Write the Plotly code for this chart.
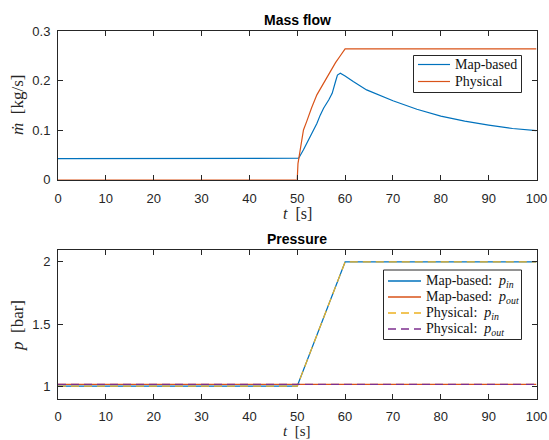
import plotly.graph_objects as go

# Mass flow, map-based model
t_map = [0, 50, 50.3, 51.3, 52.7, 54.1, 54.8, 55.5, 56.6, 57.3, 58.0, 58.4, 59.0,
         59.7, 60, 61.7, 64.5, 70, 75, 80, 85, 90, 95, 100]
mdot_map = [0.042, 0.042, 0.043, 0.060, 0.086, 0.113, 0.130, 0.144, 0.161, 0.174,
            0.198, 0.211, 0.2145, 0.211, 0.209, 0.198, 0.181, 0.159, 0.142, 0.128,
            0.118, 0.110, 0.103, 0.0986]

# Mass flow, physical model
t_phys = [0, 50, 50.15, 50.6, 51, 51.3, 52, 52.7, 53, 54.1, 55.5, 56, 57.6, 58, 59, 60, 100]
mdot_phys = [0, 0, 0.032, 0.060, 0.083, 0.100, 0.118, 0.140, 0.145, 0.171, 0.194,
             0.204, 0.231, 0.236, 0.250, 0.264, 0.264]

# Pressures
t_p = [0, 50, 60, 100]
p_in_map = [1.0, 1.0, 2.0, 2.0]
p_out_map = [1.013, 1.013, 1.013, 1.013]
p_in_phys = [1.0, 1.0, 2.0, 2.0]
p_out_phys = [1.013, 1.013, 1.013, 1.013]

x_ticks = list(range(0, 101, 10))
y1_ticks = [0, 0.1, 0.2, 0.3]
y1_labels = ["0", "0.1", "0.2", "0.3"]
y2_ticks = [1, 1.5, 2]
y2_labels = ["1", "1.5", "2"]

top_names = ["Map-based", "Physical"]
bot_names = ["Map-based:  <i>p</i><sub><i>in</i></sub>",
             "Map-based:  <i>p</i><sub><i>out</i></sub>",
             "Physical:  <i>p</i><sub><i>in</i></sub>",
             "Physical:  <i>p</i><sub><i>out</i></sub>"]

BLUE = "#0072BD"
ORANGE = "#D95319"
YELLOW = "#EDB120"
PURPLE = "#7E2F8E"
AX = "#262626"
SERIF = "Liberation Serif, DejaVu Serif, serif"
SANS = "Liberation Sans, Arial, sans-serif"
DASH = "8px,5px"
LW = 1.2

W, H = 549, 440

top_colors = [BLUE, ORANGE]
top_dashes = ["solid", "solid"]
bot_colors = [BLUE, ORANGE, YELLOW, PURPLE]
bot_dashes = ["solid", "solid", DASH, DASH]

fig = go.Figure()

for xv, yv, nm, c, d in zip([t_map, t_phys], [mdot_map, mdot_phys], top_names,
                            top_colors, top_dashes):
    fig.add_trace(go.Scatter(x=xv, y=yv, mode="lines", name=nm,
                             line=dict(color=c, width=LW, dash=d), xaxis="x", yaxis="y"))

for yv, nm, c, d in zip([p_in_map, p_out_map, p_in_phys, p_out_phys], bot_names,
                        bot_colors, bot_dashes):
    fig.add_trace(go.Scatter(x=t_p, y=yv, mode="lines", name=nm,
                             line=dict(color=c, width=LW, dash=d), xaxis="x2", yaxis="y2"))

X0, X1 = 58, 536.5
x_dom = [X0 / W, X1 / W]
top_dom = [1 - 179.5 / H, 1 - 31 / H]
bot_dom = [1 - 398.5 / H, 1 - 249.5 / H]

axis_common = dict(
    showline=True, linecolor=AX, linewidth=1, mirror="ticks",
    ticks="inside", ticklen=5, tickcolor=AX, tickwidth=1,
    showgrid=False, zeroline=False, automargin=False,
    tickfont=dict(family=SANS, size=13, color=AX),
)

fig.update_layout(
    width=W, height=H,
    margin=dict(l=0, r=0, t=0, b=0, autoexpand=False),
    paper_bgcolor="white", plot_bgcolor="rgba(0,0,0,0)",
    showlegend=False,
    xaxis=dict(domain=x_dom, range=[0, 100], tickvals=x_ticks, anchor="y",
               ticklabelstandoff=7, **axis_common),
    yaxis=dict(domain=top_dom, range=[0, 0.3], tickvals=y1_ticks, ticktext=y1_labels,
               anchor="x", ticklabelstandoff=4, **axis_common),
    xaxis2=dict(domain=x_dom, range=[0, 100], tickvals=x_ticks, anchor="y2",
                ticklabelstandoff=6, **axis_common),
    yaxis2=dict(domain=bot_dom, range=[0.9, 2.1], tickvals=y2_ticks, ticktext=y2_labels,
                anchor="x2", ticklabelstandoff=4, **axis_common),
    # full-page pixel frame used to place the legend keys
    xaxis3=dict(domain=[0, 1], range=[0, W], visible=False, fixedrange=True,
                anchor="y3"),
    yaxis3=dict(domain=[0, 1], range=[H, 0], visible=False, fixedrange=True,
                anchor="x3"),
)

shapes = []
ann = []


def px_x(v):
    return v / W


def px_y(v):
    return 1 - v / H


def add_legend(box, rows, line_x, text_x, names, colors, dashes, key_width):
    """Boxed legend: frame, line keys and labels, in pixel positions."""
    bx0, by0, bx1, by1 = box
    shapes.append(dict(type="rect", xref="paper", yref="paper",
                       x0=px_x(bx0), x1=px_x(bx1), y0=px_y(by1), y1=px_y(by0),
                       line=dict(color=AX, width=1), fillcolor="rgba(0,0,0,0)",
                       layer="above"))
    for ry, nm, c, d in zip(rows, names, colors, dashes):
        fig.add_trace(go.Scatter(x=list(line_x), y=[ry, ry], mode="lines",
                                 line=dict(color=c, width=key_width, dash=d),
                                 xaxis="x3", yaxis="y3", hoverinfo="skip"))
        ann.append(dict(text=nm, x=px_x(text_x), y=px_y(ry), xanchor="left",
                        yanchor="middle",
                        font=dict(family=SERIF, size=14, color="#111111")))


add_legend((413.5, 55.5, 521.5, 92.5), [64.5, 81.5], (418, 450), 453,
           top_names, top_colors, top_dashes, LW)
add_legend((383.5, 270, 521.5, 339.5), [281, 297, 313, 329], (388, 421), 424,
           bot_names, bot_colors, bot_dashes, 1.4)

# Titles and axis labels
xc = (X0 + X1) / 2
ann += [
    dict(text="<b>Mass flow</b>", x=px_x(xc), y=px_y(20),
         font=dict(family=SANS, size=14, color="black")),
    dict(text="<b>Pressure</b>", x=px_x(xc), y=px_y(239),
         font=dict(family=SANS, size=14, color="black")),
    dict(text="<i>t</i>&nbsp; [s]", x=px_x(xc), y=px_y(213),
         font=dict(family=SERIF, size=16, color=AX)),
    dict(text="<i>t</i>&nbsp; [s]", x=px_x(xc), y=px_y(440), yanchor="bottom",
         borderpad=0, font=dict(family=SERIF, size=15, color=AX)),
    dict(text="<i>ṁ</i>&nbsp; [kg/s]", x=px_x(17), y=px_y(105), textangle=-90,
         font=dict(family=SERIF, size=17, color=AX)),
    dict(text="<i>p</i>&nbsp; [bar]", x=px_x(17), y=px_y(326), textangle=-90,
         font=dict(family=SERIF, size=17, color=AX)),
]
for a in ann:
    a.update(xref="paper", yref="paper", showarrow=False)
    a.setdefault("xanchor", "center")
    a.setdefault("yanchor", "middle")

fig.update_layout(shapes=shapes, annotations=ann)

fig.write_html("out.html")
